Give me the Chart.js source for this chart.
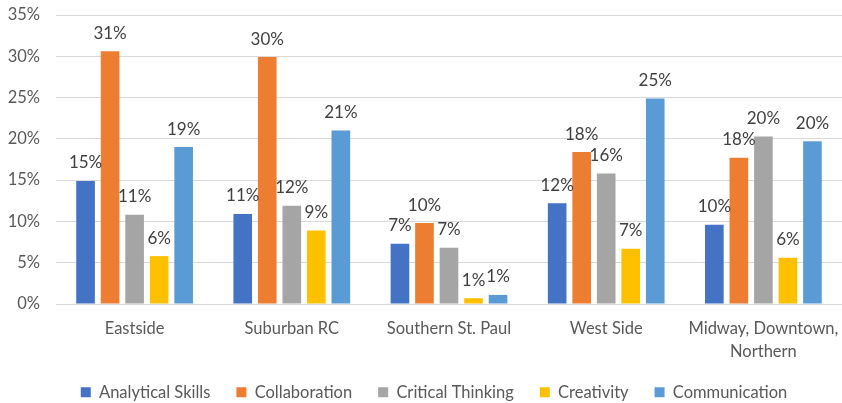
<!DOCTYPE html>
<html>
<head>
<meta charset="utf-8">
<script src="https://cdn.jsdelivr.net/npm/chart.js@4/dist/chart.umd.min.js"></script>
<style>
  html, body { margin: 0; padding: 0; background: #ffffff; }
  #wrap { width: 842px; height: 403px; position: relative; }
</style>
</head>
<body>
<div id="wrap"><canvas id="chart"></canvas></div>
<script>
// Skill shares (%) by district
const categories = ["Eastside", "Suburban RC", "Southern St. Paul", "West Side", ["Midway, Downtown,", "Northern"]];
const analyticalSkills = [14.9, 10.9, 7.3, 12.2, 9.6];
const collaboration    = [30.6, 29.9, 9.8, 18.4, 17.7];
const criticalThinking = [10.8, 11.9, 6.8, 15.8, 20.3];
const creativity       = [5.8, 8.9, 0.7, 6.7, 5.6];
const communication    = [19.0, 21.0, 1.1, 24.9, 19.7];
const yTicks = [0, 5, 10, 15, 20, 25, 30, 35];

const FONT = "Lato, 'Liberation Sans', sans-serif";

// Writes the rounded percentage above every bar
const valueLabels = {
  id: "valueLabels",
  afterDatasetsDraw(chart) {
    const ctx = chart.ctx;
    ctx.save();
    ctx.font = "17px " + FONT;
    ctx.fillStyle = "#404040";
    ctx.textAlign = "center";
    ctx.textBaseline = "middle";
    chart.data.datasets.forEach((ds, i) => {
      chart.getDatasetMeta(i).data.forEach((bar, j) => {
        ctx.fillText(Math.round(ds.data[j]) + "%", bar.x, bar.y - 18);
      });
    });
    ctx.restore();
  }
};

// Nudges the legend row a little to the right of the canvas centre
const legendShift = {
  id: "legendShift",
  afterLayout(chart) {
    const lg = chart.legend;
    if (lg) { lg.left += 13; lg.right += 13; }
  }
};

const series = [
  { label: "Analytical Skills", data: analyticalSkills, color: "#4472C4" },
  { label: "Collaboration", data: collaboration, color: "#ED7D31" },
  { label: "Critical Thinking", data: criticalThinking, color: "#A5A5A5" },
  { label: "Creativity", data: creativity, color: "#FFC000" },
  { label: "Communication", data: communication, color: "#5B9BD5" }
];

new Chart(document.getElementById("chart"), {
  type: "bar",
  data: {
    labels: categories,
    datasets: series.map(s => ({
      label: s.label,
      data: s.data,
      backgroundColor: s.color,
      borderWidth: 0,
      barPercentage: 0.76,
      categoryPercentage: 0.78
    }))
  },
  options: {
    responsive: true,
    maintainAspectRatio: false,
    animation: false,
    layout: { padding: { top: 0, right: 0, left: 0, bottom: 0 } },
    plugins: {
      legend: {
        position: "bottom",
        maxHeight: 45,
        labels: {
          boxWidth: 10,
          boxHeight: 10,
          padding: 26,
          color: "#595959",
          font: { family: FONT, size: 16.5 }
        }
      },
      tooltip: { enabled: false }
    },
    scales: {
      x: {
        afterFit(scale) {
          scale.height = 54;
          scale.paddingLeft = 0;
          scale.paddingRight = 0;
        },
        grid: { display: false, drawTicks: false },
        border: { color: "#D9D9D9" },
        ticks: {
          color: "#595959",
          font: { family: FONT, size: 16.5, lineHeight: 1.4 },
          padding: 13,
          maxRotation: 0,
          autoSkip: false
        }
      },
      y: {
        min: 0,
        max: 35,
        afterFit(scale) {
          scale.width = 56;
          scale.paddingTop = 15;
          scale.paddingBottom = 0;
        },
        afterBuildTicks(scale) { scale.ticks = yTicks.map(v => ({ value: v })); },
        grid: { color: "#D9D9D9", drawTicks: false },
        border: { display: false },
        ticks: {
          color: "#595959",
          font: { family: FONT, size: 16.5 },
          padding: 16,
          callback: v => v + "%"
        }
      }
    }
  },
  plugins: [valueLabels, legendShift]
});
</script>
</body>
</html>
